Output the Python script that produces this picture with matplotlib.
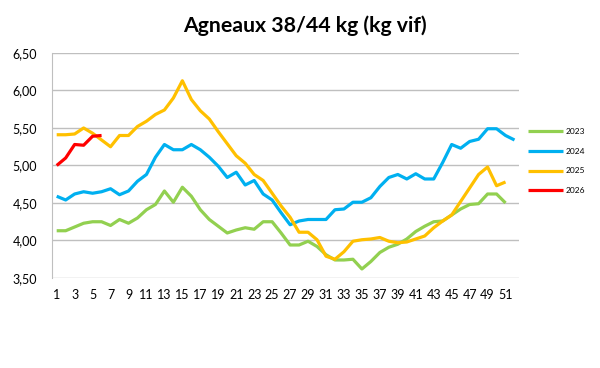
import matplotlib

matplotlib.use("Agg")
import matplotlib.pyplot as plt

plt.rcParams["font.family"] = ["Lato", "DejaVu Sans"]

weeks = list(range(1, 53))

prix_2023 = [4.13, 4.13, 4.18, 4.23, 4.25, 4.25, 4.20, 4.28, 4.23, 4.30,
             4.41, 4.48, 4.66, 4.51, 4.71, 4.59, 4.41, 4.28, 4.19, 4.10,
             4.14, 4.17, 4.15, 4.25, 4.25, 4.10, 3.94, 3.94, 3.99, 3.92,
             3.81, 3.74, 3.74, 3.75, 3.62, 3.72, 3.84, 3.91, 3.95, 4.02,
             4.12, 4.19, 4.25, 4.26, 4.34, 4.42, 4.48, 4.49, 4.62, 4.62,
             4.50]
prix_2024 = [4.59, 4.54, 4.62, 4.65, 4.63, 4.65, 4.69, 4.61, 4.66, 4.79,
             4.88, 5.11, 5.28, 5.21, 5.21, 5.28, 5.21, 5.11, 4.99, 4.84,
             4.91, 4.74, 4.80, 4.62, 4.54, 4.37, 4.21, 4.26, 4.28, 4.28,
             4.28, 4.41, 4.42, 4.51, 4.51, 4.57, 4.72, 4.84, 4.88, 4.82,
             4.89, 4.82, 4.82, 5.04, 5.28, 5.23, 5.32, 5.35, 5.49, 5.49,
             5.40, 5.34]
prix_2025 = [5.41, 5.41, 5.42, 5.50, 5.43, 5.34, 5.25, 5.40, 5.40, 5.52,
             5.59, 5.68, 5.74, 5.90, 6.13, 5.88, 5.73, 5.62, 5.45, 5.29,
             5.13, 5.03, 4.88, 4.80, 4.63, 4.46, 4.31, 4.11, 4.11, 4.01,
             3.79, 3.75, 3.85, 3.99, 4.01, 4.02, 4.04, 3.99, 3.97, 3.98,
             4.02, 4.06, 4.17, 4.26, 4.34, 4.52, 4.70, 4.88, 4.98, 4.73,
             4.78]
prix_2026 = [5.00, 5.10, 5.28, 5.27, 5.39, 5.40]

series = [
    ("2023", prix_2023, "#92d050"),
    ("2024", prix_2024, "#00b0f0"),
    ("2025", prix_2025, "#ffc000"),
    ("2026", prix_2026, "#ff0000"),
]

y_ticks = [3.5, 4.0, 4.5, 5.0, 5.5, 6.0, 6.5]

fig = plt.figure(figsize=(6, 3.68), dpi=100)
ax = fig.add_axes([0.087, 0.2446, 0.778, 0.6114])

for label, values, color in series:
    ax.plot(weeks[:len(values)], values, color=color, linewidth=2.3,
            label=label, solid_joinstyle="round", solid_capstyle="butt")

ax.set_xlim(0.5, 52.5)
ax.set_ylim(3.5, 6.5)
ax.set_xticks(range(1, 53, 2))
ax.set_xticklabels([str(w) for w in range(1, 53, 2)], fontsize=9)
ax.set_yticks(y_ticks)
ax.set_yticklabels([f"{v:.2f}".replace(".", ",") for v in y_ticks], fontsize=9)
ax.tick_params(axis="x", length=0, pad=8)
ax.tick_params(axis="y", length=0, pad=11)
ax.grid(axis="y", color="#bfbfbf", linewidth=1)
ax.set_axisbelow(True)
for side in ("top", "right", "bottom"):
    ax.spines[side].set_visible(False)
ax.spines["left"].set_color("#bfbfbf")

fig.text(0.508, 0.929, "Agneaux 38/44 kg (kg vif)", ha="center", va="center",
         fontsize=15.3, fontweight="bold")

fig.legend(loc="center left", bbox_to_anchor=(528 / 600, 1 - 161 / 368),
           frameon=False, fontsize=6, handlelength=4.2, handletextpad=0.3,
           labelspacing=1.55, borderpad=0, borderaxespad=0)

fig.savefig("out.png", dpi=100)
